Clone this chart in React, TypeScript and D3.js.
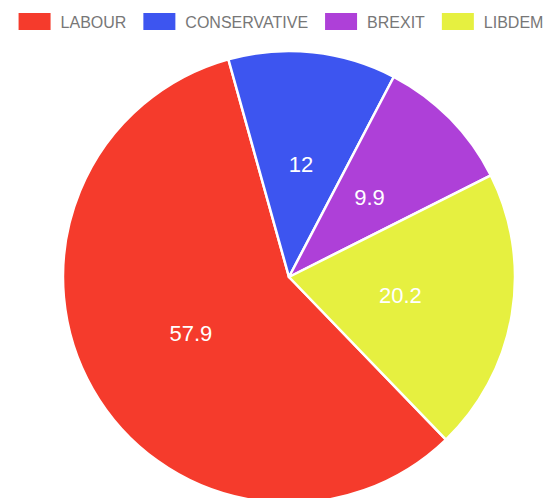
import React from "react";
import * as d3 from "d3";

const categories = ["LABOUR", "CONSERVATIVE", "BREXIT", "LIBDEM"];
const values = [57.9, 12, 9.9, 20.2];
const colors = ["#f53b2c", "#3d55f0", "#ae40d8", "#e6f040"];

const W = 550;
const H = 498;
const cx = 289;
const cy = 277;
const R = 226;
const startDeg = 136;
const legendFont = "16px 'Liberation Sans', Arial, sans-serif";

function measure(text: string): number {
  const c = document.createElement("canvas").getContext("2d");
  if (!c) return text.length * 9;
  c.font = legendFont;
  return c.measureText(text).width;
}

export default function App() {
  const a0 = (startDeg * Math.PI) / 180;
  const pie = d3
    .pie<number>()
    .sort(null)
    .startAngle(a0)
    .endAngle(a0 + 2 * Math.PI);
  const arcs = pie(values);
  const arc = d3.arc<d3.PieArcDatum<number>>().innerRadius(0).outerRadius(R);

  const boxW = 32;
  const boxH = 17;
  const pad = 10;
  const gap = 17;
  const widths = categories.map((c) => boxW + pad + measure(c));
  const total = widths.reduce((a, b) => a + b, 0) + gap * (categories.length - 1);
  let x = 281 - total / 2;
  const legendItems = categories.map((c, i) => {
    const item = { x, c, color: colors[i] };
    x += widths[i] + gap;
    return item;
  });

  return (
    <svg width={W} height={H} style={{ position: "absolute", left: 0, top: 0 }}>
      <rect width={W} height={H} fill="#fff" />
      <g>
        {legendItems.map((it) => (
          <g key={it.c}>
            <rect x={it.x} y={13} width={boxW} height={boxH} fill={it.color} />
            <text
              x={it.x + boxW + pad}
              y={28}
              fill="#777"
              style={{ font: legendFont }}
            >
              {it.c}
            </text>
          </g>
        ))}
      </g>
      <g transform={`translate(${cx},${cy})`}>
        {arcs.map((a, i) => (
          <path
            key={i}
            d={arc(a) || ""}
            fill={colors[i]}
            stroke="#fff"
            strokeWidth={2.5}
            strokeLinejoin="round"
          />
        ))}
        {arcs.map((a, i) => {
          const [lx, ly] = arc.centroid(a);
          return (
            <text
              key={"t" + i}
              x={lx}
              y={ly}
              textAnchor="middle"
              dominantBaseline="central"
              fill="#fff"
              style={{ font: "22px 'Liberation Sans', Arial, sans-serif" }}
            >
              {String(values[i])}
            </text>
          );
        })}
      </g>
    </svg>
  );
}
